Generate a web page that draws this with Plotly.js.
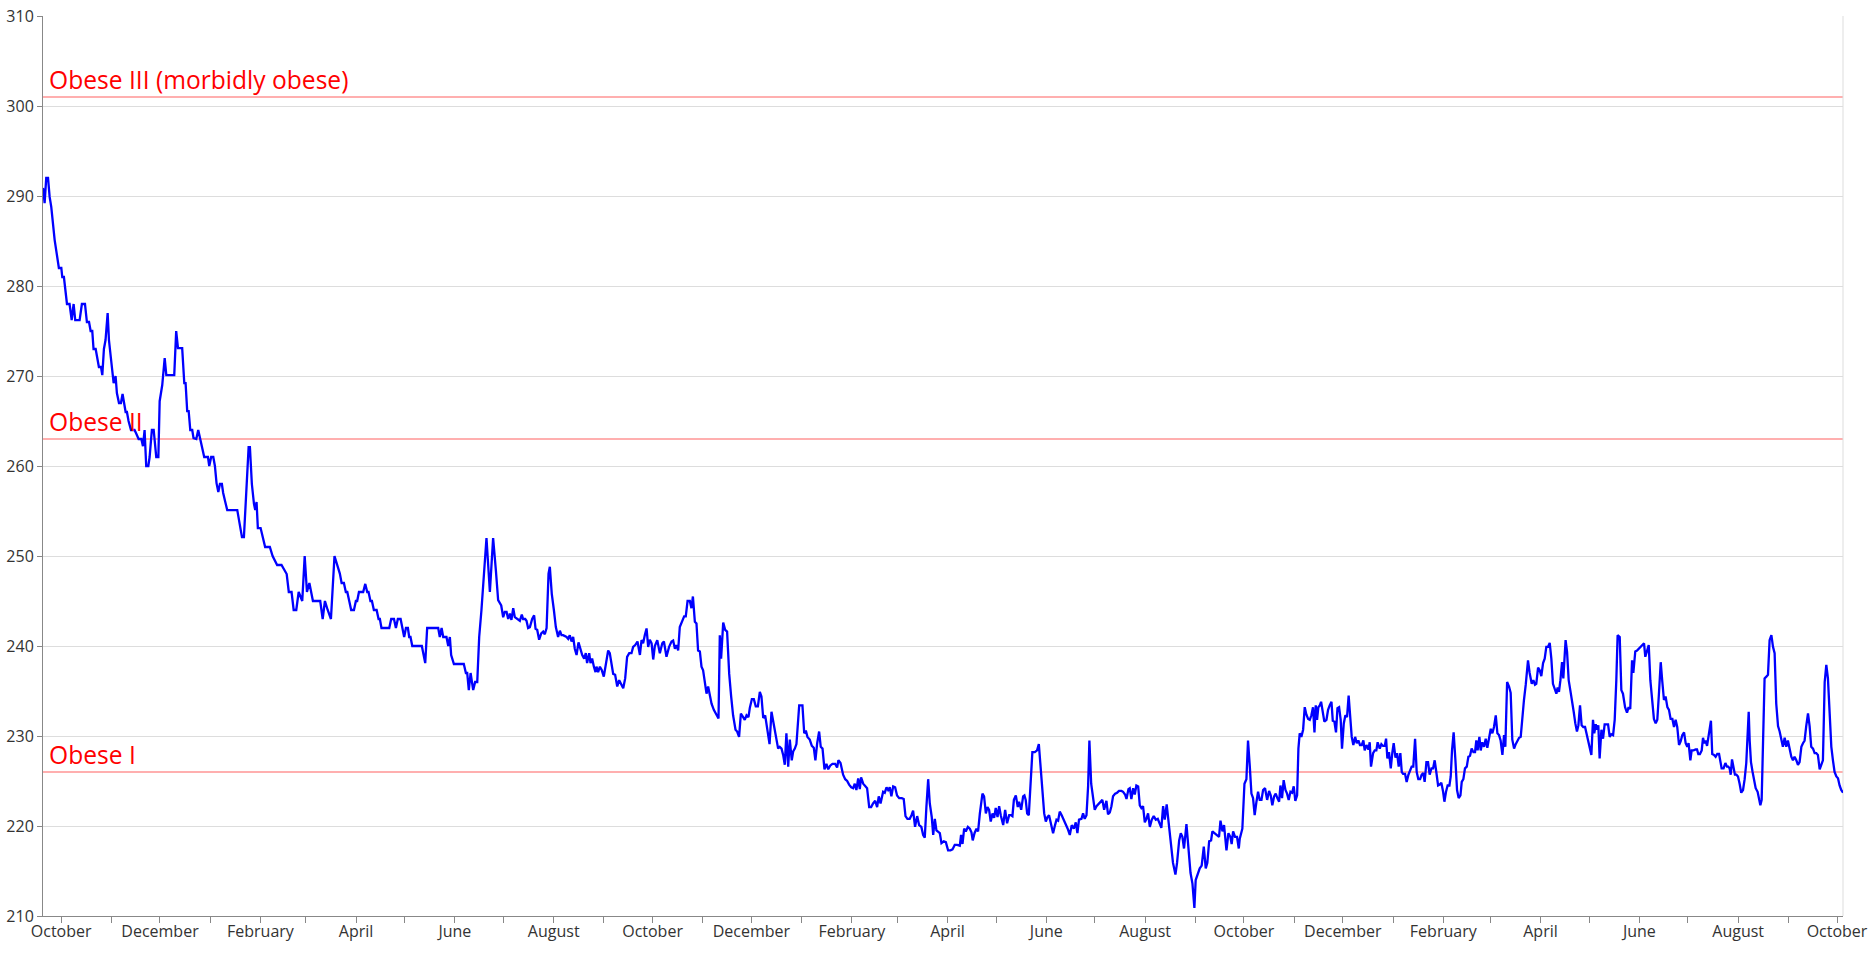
<!DOCTYPE html>
<html>
<head>
<meta charset="utf-8">
<script src="https://cdn.plot.ly/plotly-3.0.1.min.js"></script>
<style>html,body{margin:0;padding:0;background:#fff;}#chart{width:1874px;height:961px;}</style>
</head>
<body>
<div id="chart"></div>
<script>
// Day offsets are counted from this date (day 0 = 1 October of the first year)
const startDate = '2013-10-01';

// [day offset, weight] readings, split by period
const fall2013 = [[-11.2,290.9],[-10.2,289.2],[-9.2,292.0],[-8.1,292.0],[-7.1,289.9],[-6.1,288.8],[-4.0,285.1],[-2.6,283.3],[-1.4,282.0],[0.1,282.0],[0.7,281.0],[1.7,281.0],[2.8,279.0],[3.6,278.0],[5.2,278.0],[6.5,276.2],[7.7,278.0],[8.7,276.2],[11.4,276.2],[12.8,278.0],[14.7,278.0],[15.9,276.0],[17.2,276.0],[18.2,275.0],[19.2,275.0],[20.0,273.0],[21.3,273.0],[22.1,272.0],[23.3,271.0],[24.6,271.0],[25.4,270.1],[26.4,273.0],[27.4,274.0],[28.7,277.0],[29.5,274.0],[30.7,272.0],[32.4,269.2],[33.6,270.0],[34.4,268.1],[35.7,267.0],[36.9,267.0],[37.9,268.0],[39.0,267.0],[39.8,266.0],[40.6,266.0],[41.6,265.0],[43.1,264.0],[45.3,264.0],[46.6,263.5],[47.8,263.0],[49.5,263.0],[50.5,262.2],[51.5,264.0],[52.5,260.0],[53.8,260.0],[54.6,261.0],[56.0,264.0],[57.1,264.0],[58.7,261.0],[60.0,261.0],[60.8,267.2],[62.4,269.0],[63.9,272.0],[64.9,270.1],[69.8,270.1],[71.0,275.0],[72.1,273.1],[74.7,273.1],[76.0,269.2],[76.8,269.2],[77.8,266.1],[78.7,266.1],[79.7,264.0],[80.9,264.0],[81.7,263.1],[83.4,263.0],[84.6,264.0],[85.9,263.0],[87.1,262.0],[88.3,261.0],[90.6,261.0],[91.4,260.0],[92.6,261.0],[93.9,261.0],[94.9,260.0]];

const winter2014 = [[95.9,258.1],[97.0,257.1],[98.0,258.0],[99.2,258.0],[100.0,257.0],[101.3,256.0],[102.5,255.1],[108.7,255.1],[110.3,253.6],[111.6,252.1],[112.8,252.1],[114.0,256.2],[114.9,258.0],[115.7,262.1],[116.5,262.1],[117.7,258.0],[119.0,255.8],[119.8,255.1],[120.6,256.0],[121.4,253.1],[123.1,253.1],[124.7,252.0],[125.9,251.0],[128.8,251.0],[130.5,250.0],[133.3,249.0],[136.0,249.0],[139.2,248.0],[140.5,246.0],[142.2,246.0],[143.5,244.0],[145.1,244.0],[146.6,246.0],[148.8,245.0],[150.3,250.0],[151.7,246.0],[153.2,247.0],[155.4,245.0],[159.9,245.0],[161.4,243.0],[162.8,245.0],[164.5,244.0],[166.5,243.0],[168.7,250.0]];

const summer2014 = [[172.0,248.05],[173.1,247.0],[174.5,247.0],[175.7,246.0],[176.6,246.0],[177.8,245.0],[179.0,244.0],[180.7,244.0],[181.9,245.0],[182.7,245.0],[183.8,246.0],[186.4,246.0],[187.7,246.9],[188.9,246.0],[189.7,246.0],[190.9,245.0],[191.8,245.0],[193.0,244.0],[194.7,244.0],[195.9,243.0],[196.7,243.0],[197.7,242.0],[202.5,242.0],[203.7,243.0],[205.4,243.0],[206.6,242.0],[207.8,243.0],[209.5,243.0],[210.7,242.0],[211.7,241.0],[212.8,242.0],[214.0,242.0],[214.8,241.0],[215.6,241.0],[216.7,240.0],[222.6,240.0],[224.7,238.1],[225.9,242.0],[232.7,242.0],[233.7,241.0],[234.8,242.0],[235.8,241.0],[237.8,241.0],[238.9,240.0],[239.9,241.0],[240.7,239.0],[242.4,238.0],[248.5,238.0],[249.8,237.0],[250.6,237.0],[251.6,235.1],[252.7,237.0],[254.3,235.1],[255.5,236.0],[256.8,236.0],[258.0,241.0],[259.4,244.0],[260.9,247.7],[262.5,252.0],[264.6,246.0],[266.6,252.0],[268.3,248.4],[269.7,245.1],[271.6,244.5],[272.8,243.2],[273.8,243.8],[274.9,243.8],[275.9,243.0],[276.9,243.6],[277.9,242.9],[279.0,244.2],[280.0,243.2],[282.1,242.9],[283.1,242.8],[284.3,243.5],[285.1,243.0],[286.4,243.0],[287.2,242.8],[288.2,242.0],[289.3,242.1],[290.7,243.0],[291.9,243.4],[292.8,241.9],[293.8,241.8],[295.0,240.7],[296.3,241.4],[297.5,241.6],[298.5,241.3],[299.6,242.0],[300.8,248.05],[301.6,248.8],[302.8,245.8],[304.1,244.0],[305.3,242.1],[306.7,241.0],[307.8,241.7],[308.8,241.2],[309.8,241.2],[310.9,241.1],[311.9,241.0],[312.9,240.8],[313.9,241.2],[315.0,240.5],[316.0,241.0],[317.0,239.7],[318.1,239.0],[319.3,240.4],[320.5,239.5],[321.6,239.0],[322.8,238.6],[323.8,239.2],[324.6,238.1],[325.9,239.2],[326.7,238.1],[327.7,238.6],[328.8,237.7],[329.8,237.1],[330.4,237.7],[331.4,237.1],[332.5,237.7],[333.7,237.3],[334.9,236.6],[336.0,237.7],[337.6,239.5],[338.6,239.2],[339.7,238.1],[340.7,236.9],[341.9,236.8],[343.2,235.5],[344.4,236.2],[345.6,235.7],[346.9,235.3],[348.1,236.4],[349.3,238.8],[350.6,239.2],[352.0,239.2],[353.0,239.9],[354.3,240.1],[355.7,240.5]];

const fall2014 = [[357.2,239.0],[358.2,240.65],[359.2,240.3],[360.2,241.2],[361.3,241.95],[362.3,239.9],[363.3,240.7],[364.4,240.3],[365.4,238.5],[366.4,240.0],[367.9,240.65],[369.5,239.2],[371.0,240.3],[372.0,240.5],[373.6,238.8],[375.2,239.9],[376.7,240.5],[377.7,240.6],[378.8,239.7],[379.8,240.1],[380.8,239.5],[381.8,242.1],[383.3,242.9],[384.5,243.3],[385.5,243.3],[386.6,245.0],[388.0,245.0],[389.0,244.2],[389.9,245.5],[391.1,242.7],[392.1,242.5],[393.1,239.5],[394.2,239.4],[395.2,237.7],[396.2,237.3],[397.3,235.8],[398.3,234.7],[399.3,235.5],[400.3,234.7],[401.4,233.6],[402.8,232.9],[404.5,232.3],[405.7,231.95],[406.5,241.2],[407.3,238.6],[408.6,242.6],[409.8,241.8],[411.0,241.6],[412.3,236.9],[413.5,234.4],[414.7,232.3],[416.2,230.7],[417.2,230.5],[418.4,229.9],[419.5,232.5],[420.9,232.1],[421.9,231.8],[423.0,232.3],[424.2,232.1],[425.0,233.1],[426.3,234.1],[427.5,234.1],[428.7,233.3],[430.0,233.3],[431.2,234.9],[432.2,234.4],[433.3,232.0],[434.5,232.3],[435.7,230.8],[437.2,229.1],[438.4,232.7],[439.4,231.6],[440.5,230.8],[441.5,229.7],[442.5,228.6],[443.5,228.8],[444.6,228.6],[445.6,227.9],[446.6,226.8],[447.6,230.3],[448.7,226.6],[449.7,229.6],[450.9,227.3],[451.8,228.3],[452.8,228.6],[453.8,229.1],[455.5,233.4],[457.5,233.4],[458.6,230.3],[459.6,230.6],[460.6,229.9],[462.0,229.6],[463.3,228.9],[464.5,228.7],[465.5,227.3],[466.6,229.2],[467.8,230.5],[468.8,228.8],[469.9,228.6],[471.1,226.3],[472.3,226.9],[473.4,226.3],[474.6,226.7],[476.0,226.9],[477.7,226.9],[478.9,226.5],[479.7,227.3],[481.0,227.0],[482.6,225.7],[483.9,225.2],[485.1,225.0],[486.3,224.6],[487.6,224.3],[488.8,224.2],[489.8,224.7],[490.8,224.0],[491.9,225.3],[492.9,224.1],[493.7,225.4],[495.0,224.7],[496.2,224.4],[497.4,224.2],[498.7,222.1],[499.9,222.1],[501.1,222.5],[502.4,222.8],[503.6,222.1],[504.6,223.3],[505.7,222.5],[507.3,223.8],[508.3,223.7],[509.4,224.3],[510.4,224.0],[511.4,224.3],[512.4,223.3],[513.5,224.4],[514.7,224.3],[515.9,223.4],[517.2,223.1],[518.8,223.1],[520.0,223.0],[521.1,221.1],[522.3,220.8],[523.7,220.8],[524.8,221.2],[525.8,221.7],[527.0,219.9],[528.3,221.1],[529.5,220.1],[530.9,219.9],[532.0,219.0],[533.0,218.7],[534.0,222.1],[535.1,225.2],[536.1,222.5],[537.3,221.0],[538.2,219.0],[539.2,220.8],[540.2,219.5]];

const spring2015 = [[542.3,219.2],[543.3,218.1],[544.7,218.3],[546.0,218.2],[547.4,217.3],[548.9,217.3],[550.1,217.4],[551.5,217.9],[553.0,217.9],[554.6,217.8],[555.4,219.0],[556.3,218.0],[557.3,219.7],[558.3,219.4],[559.6,219.9],[560.8,219.7],[561.8,219.3],[562.6,218.4],[563.7,219.2],[564.9,219.7],[565.9,219.4],[567.0,221.4],[568.6,223.6],[569.6,223.3],[570.7,221.4],[571.7,222.1],[572.7,221.8],[573.7,220.5],[574.8,221.4],[575.8,220.9],[576.8,222.0],[577.9,221.0],[578.9,222.2],[579.9,221.2],[581.4,220.1],[582.6,221.8],[583.8,220.3],[585.1,221.2],[586.3,221.2],[587.1,221.1],[588.0,222.9],[589.2,223.4],[590.4,222.1],[591.2,222.7],[592.5,221.8],[593.7,223.3],[594.5,223.4],[595.3,222.9],[596.2,221.4],[597.2,221.2],[598.2,224.0],[599.4,228.2],[600.9,228.2],[602.3,228.4],[603.4,229.1],[604.4,226.6],[605.6,223.3],[606.7,221.4],[607.7,220.5],[608.7,221.0],[609.7,221.2],[610.8,220.3],[612.2,219.2],[613.4,220.1],[614.3,220.7],[615.3,220.6],[616.3,221.6],[617.5,221.2],[618.8,220.7],[620.0,220.1],[621.2,219.7],[622.5,219.0],[623.7,220.1],[625.0,219.7],[626.2,220.4],[627.2,219.2],[628.2,220.7],[629.7,220.8],[630.7,221.4],[631.7,220.8],[632.8,221.2],[633.8,224.4],[634.6,229.5],[635.7,224.7],[636.9,222.7],[637.9,221.8],[639.0,222.2],[640.2,222.4],[641.4,222.7],[642.6,222.9],[643.7,221.8],[645.1,222.8],[646.1,221.3],[647.2,221.5],[648.2,222.2],[649.2,223.3],[650.5,223.6],[651.7,223.7],[652.9,223.9],[654.4,223.9],[655.4,223.8],[656.6,223.5],[657.5,223.0],[658.7,224.1],[659.5,224.2],[660.5,223.0],[661.6,224.2],[662.6,223.5],[663.6,224.5],[664.7,224.4],[665.7,222.3],[666.7,222.0],[667.7,222.2],[668.8,220.4],[669.8,220.8],[670.8,221.4],[671.9,219.9],[673.1,220.7],[674.3,221.1],[675.6,220.7],[676.8,220.8],[678.0,220.3],[679.0,219.8],[680.1,222.2],[681.1,220.7],[682.3,222.4],[683.4,220.5],[684.6,218.3],[686.2,215.9],[687.7,214.6],[688.7,215.9],[690.0,218.4],[691.0,219.2],[692.0,218.8],[693.0,217.5],[694.5,220.2],[695.7,217.7],[697.0,214.8],[698.2,213.6],[699.4,210.9],[700.2,214.0],[701.7,214.7],[702.7,215.3],[703.9,215.6],[705.2,217.7],[706.4,215.3],[707.4,215.9],[708.5,218.3],[709.7,218.4],[710.5,219.4],[712.0,219.2],[713.4,219.0],[714.6,218.8],[715.5,220.6],[716.7,219.4],[717.7,220.1],[719.2,217.3],[720.4,219.2],[721.6,218.8],[722.4,218.0],[723.3,219.4],[724.5,218.8],[725.7,218.8],[726.8,217.5]];

const winter2016 = [[727.4,218.6],[729.0,219.7],[730.3,224.7],[731.5,225.2],[732.5,229.5],[733.6,226.6],[734.6,223.6],[735.6,223.1],[736.6,221.2],[737.7,222.7],[738.7,223.8],[739.7,222.9],[740.8,222.9],[741.8,224.0],[743.0,224.2],[744.3,222.9],[745.5,223.9],[746.5,223.4],[747.5,222.3],[748.6,223.3],[749.6,223.6],[750.6,223.1],[751.7,222.7],[752.5,224.5],[753.5,223.1],[754.5,225.1],[755.6,224.0],[756.6,223.6],[757.6,222.9],[758.7,223.8],[759.7,223.7],[760.7,224.4],[761.7,222.8],[762.8,223.4],[763.6,228.6],[764.4,230.3],[765.4,229.9],[766.5,230.7],[767.5,233.2],[768.5,232.4],[769.6,231.9],[770.6,231.8],[771.6,232.3],[772.6,233.2],[773.5,230.4],[774.3,233.4],[775.1,231.8],[775.9,233.2],[776.8,233.4],[777.6,233.8],[778.4,232.7],[779.6,231.6],[780.9,231.8],[781.9,232.9],[782.9,233.4],[784.0,233.8],[784.8,231.7],[785.8,231.6],[786.8,230.4],[787.7,233.1],[788.7,233.2],[789.7,231.8],[790.5,228.6],[791.6,231.4],[792.6,232.3],[793.6,232.1],[794.6,234.5],[795.7,232.3],[796.5,229.9],[797.5,229.0],[798.6,229.9],[799.6,229.2],[800.6,229.5],[801.6,229.0],[802.7,229.0],[803.7,229.5],[804.5,228.4],[805.6,229.0],[806.8,228.5],[807.6,229.3],[808.4,226.6],[809.7,228.1],[810.7,228.4],[811.7,228.4],[812.5,229.3],[813.8,228.6],[814.8,229.1],[815.8,228.9],[816.9,228.9],[817.7,229.7],[818.5,227.5],[819.5,228.2],[820.6,226.4],[821.6,228.2],[822.4,229.2],[823.5,227.6],[824.5,228.1],[825.5,226.6],[826.5,228.1],[827.4,226.0],[828.2,225.8],[829.4,225.8],[830.4,224.9],[831.5,225.7],[832.5,226.2],[833.5,226.6],[834.5,226.6],[835.6,229.7],[836.6,226.0],[837.6,225.2],[838.7,225.2],[839.7,225.7],[840.7,225.9],[841.5,224.9],[842.6,227.1],[843.6,227.1],[844.6,225.7],[845.7,226.4],[846.7,226.4],[847.7,227.3],[848.7,226.0],[849.8,224.5],[850.8,224.6],[851.8,224.8],[852.9,223.8],[853.7,222.7],[854.7,223.8],[855.7,224.5],[856.8,224.5],[857.6,225.5],[858.4,228.4],[859.4,230.4],[860.5,227.3],[861.5,224.0],[862.5,223.1],[863.6,223.4],[864.4,224.9],[865.4,225.2],[866.4,226.4],[867.5,226.6],[868.5,227.7],[869.5,227.8],[870.5,228.6],[871.6,228.2],[872.6,228.2],[873.4,229.5],[874.2,228.4],[875.3,229.9],[876.1,228.4],[877.1,229.3],[878.2,228.8],[879.2,229.7],[880.2,228.7],[881.2,229.6],[882.3,230.8],[883.3,230.3],[884.3,231.0],[885.4,232.3],[886.4,230.3],[887.4,230.1],[888.4,229.5],[889.5,227.9],[890.5,230.1],[891.3,228.8],[892.4,236.0],[893.6,235.5],[894.6,234.8],[895.6,229.6],[896.7,228.6],[897.7,229.1],[898.7,229.5],[899.8,229.8],[900.8,229.9],[901.8,232.5],[902.8,234.0],[903.9,235.7],[905.3,238.4],[906.3,237.0],[907.6,235.8],[908.6,236.2],[909.6,235.7],[910.4,235.8],[911.5,237.6]];

const summer2016 = [[912.5,237.3],[913.5,236.65],[914.6,238.1],[915.6,238.6],[916.6,239.9],[917.6,239.9],[918.7,240.35],[919.7,238.6],[920.7,235.8],[921.8,235.1],[922.8,234.7],[923.6,235.4],[924.4,234.9],[925.3,236.2],[926.3,238.2],[927.1,236.4],[927.9,238.4],[928.5,240.65],[929.4,239.35],[930.4,236.2],[931.4,235.1],[932.5,234.0],[933.5,232.7],[934.5,231.4],[935.5,230.5],[936.4,231.2],[937.4,233.4],[938.4,231.2],[939.4,231.0],[940.5,231.0],[941.3,230.3],[942.3,229.5],[943.4,228.7],[944.4,227.9],[945.4,231.8],[946.2,230.3],[947.1,231.3],[947.9,230.7],[948.7,231.2],[949.5,227.5],[950.6,230.7],[951.6,229.7],[952.6,231.3],[954.7,231.3],[955.7,229.9],[956.7,230.2],[957.8,230.1],[958.8,231.8],[959.8,236.2],[960.6,241.2],[961.9,241.0],[962.9,235.1],[963.9,234.7],[965.2,233.2],[966.4,232.6],[967.4,233.2],[968.4,233.0],[969.5,238.4],[970.3,237.0],[971.5,239.4],[972.6,239.5],[973.6,239.7],[974.6,239.9],[975.9,240.1],[976.9,240.3],[977.7,238.8],[978.7,239.5],[979.8,240.1],[980.8,236.2],[982.0,234.0],[983.0,231.9],[984.1,231.4],[985.1,231.8],[986.1,234.7],[987.2,238.2],[988.2,236.0],[989.2,234.0],[990.2,234.4],[991.3,233.2],[992.3,232.9],[993.3,231.9],[994.4,231.9],[995.4,231.0],[996.4,231.8],[997.4,231.0],[998.5,229.0],[999.5,229.4],[1000.5,230.1],[1001.6,230.4],[1002.6,229.2],[1003.6,228.8],[1004.4,229.2],[1005.5,227.3],[1006.3,228.4],[1007.5,228.4],[1008.8,228.5],[1009.6,228.5],[1010.4,228.0],[1011.4,228.0],[1012.5,228.4],[1013.3,229.8],[1014.1,229.2],[1014.9,229.5],[1015.8,228.9],[1016.6,230.0],[1017.4,231.1],[1018.2,231.7],[1019.0,228.0],[1020.1,227.9],[1021.1,227.7],[1022.1,228.0],[1023.2,228.0],[1024.0,227.3],[1024.8,226.4],[1026.0,226.4],[1027.1,227.0],[1028.1,226.6],[1028.9,226.6],[1029.7,226.4],[1030.4,225.7],[1031.2,227.4],[1032.2,226.2],[1033.0,225.7],[1033.9,225.7],[1034.9,225.5],[1035.9,224.7],[1036.9,223.7],[1038.0,224.0],[1039.0,225.2],[1040.0,227.0],[1040.8,229.5],[1041.5,232.7],[1042.1,229.5],[1042.9,227.1],[1043.9,226.0],[1045.0,225.1],[1045.8,224.2],[1047.0,223.8],[1047.8,222.9],[1048.7,222.3],[1049.5,222.9],[1050.3,229.2],[1051.3,236.4],[1052.4,236.6],[1053.4,236.8],[1054.4,240.65],[1055.5,241.2],[1056.5,239.9],[1057.5,239.2],[1058.5,233.6],[1059.6,231.1],[1060.6,230.5],[1061.6,229.5],[1062.6,228.8],[1063.7,229.8],[1064.7,228.8],[1065.7,229.5],[1066.8,228.6],[1067.8,227.7],[1068.8,227.3],[1069.8,227.7],[1070.9,227.3],[1071.9,226.8],[1072.9,227.1],[1074.0,228.8],[1075.0,229.2],[1076.0,229.5],[1077.0,231.1],[1078.1,232.5],[1079.1,231.1],[1080.1,228.8],[1081.2,228.6],[1082.2,228.1],[1083.2,228.1],[1084.2,227.9],[1085.3,226.3],[1086.3,226.9],[1087.3,227.3],[1088.4,236.0],[1089.4,237.9],[1090.4,236.4],[1091.4,232.3],[1092.5,228.8],[1093.5,227.3],[1094.5,226.0],[1095.6,225.5],[1096.6,225.3],[1097.6,224.5],[1098.6,224.0],[1099.7,223.7]];

// Obesity thresholds (weight) and their labels
const thresholdValues = [301, 263, 226];
const thresholdLabels = ['Obese III (morbidly obese)', 'Obese II', 'Obese I'];

// Axis settings
const yRange = [210, 310];
const yStep = 10;

const allReadings = [].concat(fall2013, winter2014, summer2014, fall2014, spring2015, winter2016, summer2016);
const t0 = Date.parse(startDate + 'T00:00:00Z');
function dayToDate(d) {
  return new Date(t0 + d * 86400000).toISOString().replace('T', ' ').slice(0, 19);
}
const xs = allReadings.map(r => dayToDate(r[0]));
const ys = allReadings.map(r => r[1]);

const trace = {
  x: xs, y: ys, type: 'scatter', mode: 'lines',
  line: {color: '#0000ff', width: 2.3},
  hoverinfo: 'skip'
};

const shapes = thresholdValues.map(v => ({
  type: 'line', xref: 'paper', x0: 0, x1: 1, yref: 'y', y0: v, y1: v,
  line: {color: 'rgba(255,0,0,0.42)', width: 1.5}, layer: 'below'
}));
shapes.push({type: 'line', xref: 'paper', yref: 'paper', x0: 1, x1: 1, y0: 0, y1: 1,
  line: {color: '#dddddd', width: 1}, layer: 'below'});

const annotations = thresholdValues.map((v, i) => ({
  xref: 'paper', x: 0, xanchor: 'left', xshift: 4,
  yref: 'y', y: v, yanchor: 'bottom', yshift: -1,
  text: thresholdLabels[i], showarrow: false,
  font: {family: 'Open Sans, sans-serif', size: 24.6, color: '#ff0000'}
}));

const layout = {
  width: 1874, height: 961,
  margin: {l: 43, r: 31, t: 16, b: 45, pad: 0},
  paper_bgcolor: '#ffffff', plot_bgcolor: '#ffffff',
  showlegend: false,
  font: {family: 'Open Sans, sans-serif', size: 16, color: '#333333'},
  xaxis: {
    type: 'date',
    range: [xs[0], xs[xs.length - 1]],
    tick0: startDate, dtick: 'M2', tickformat: '%B',
    ticks: 'outside', ticklen: 6, tickcolor: '#888888', tickwidth: 1,
    ticklabelstandoff: -5,
    showgrid: false, zeroline: false,
    showline: true, linecolor: '#888888', linewidth: 1,
    tickfont: {family: 'Open Sans, sans-serif', size: 16, color: '#333333'},
    minor: {tick0: startDate, dtick: 'M1', ticks: 'outside', ticklen: 6, tickcolor: '#888888', showgrid: false},
    automargin: false, fixedrange: true
  },
  yaxis: {
    range: yRange, tick0: yRange[0], dtick: yStep,
    ticks: 'outside', ticklen: 5, tickcolor: '#888888', tickwidth: 1,
    showgrid: true, gridcolor: '#dddddd', gridwidth: 1, zeroline: false,
    showline: true, linecolor: '#888888', linewidth: 1,
    tickfont: {family: 'Open Sans, sans-serif', size: 16, color: '#333333'},
    automargin: false, fixedrange: true
  },
  shapes: shapes,
  annotations: annotations,
  hovermode: false
};

Plotly.newPlot('chart', [trace], layout, {displayModeBar: false, staticPlot: true});
</script>
</body>
</html>
